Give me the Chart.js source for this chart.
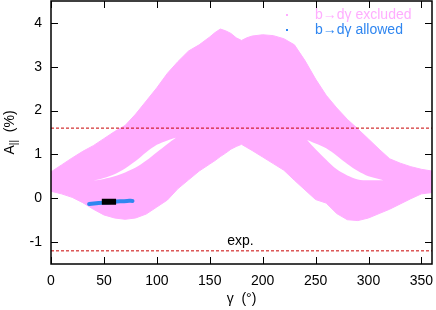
<!DOCTYPE html>
<html>
<head>
<meta charset="utf-8">
<script src="https://cdn.jsdelivr.net/npm/chart.js@4"></script>
<style>
  body { margin: 0; background: #fff; }
  canvas { display: block; }
</style>
</head>
<body>
<canvas id="gammaChart" width="436" height="310"></canvas>
<script>
// envelope of the b->d gamma excluded region
const gamma = [0, 10, 20, 30, 40, 50, 60, 70, 80, 90, 100, 110, 120, 130, 140, 150, 155, 160, 165, 170, 175, 180, 185, 190, 200, 210, 220, 230, 240, 250, 260, 270, 280, 290, 300, 310, 320, 330, 340, 350, 360]
const upperEdge = [0.60, 0.76, 0.92, 1.07, 1.20, 1.36, 1.52, 1.66, 1.92, 2.22, 2.52, 2.85, 3.12, 3.36, 3.50, 3.68, 3.78, 3.86, 3.82, 3.76, 3.66, 3.60, 3.66, 3.70, 3.73, 3.71, 3.64, 3.50, 3.14, 2.72, 2.35, 2.06, 1.80, 1.58, 1.35, 1.12, 0.90, 0.80, 0.72, 0.66, 0.62]
const lowerEdge = [0.16, 0.10, 0.02, -0.10, -0.25, -0.38, -0.45, -0.48, -0.45, -0.36, -0.20, -0.04, 0.22, 0.42, 0.62, 0.78, 0.86, 0.95, 1.03, 1.12, 1.18, 1.23, 1.16, 1.09, 0.94, 0.79, 0.64, 0.41, 0.19, -0.03, -0.11, -0.35, -0.49, -0.51, -0.45, -0.35, -0.25, -0.13, -0.01, 0.10, 0.13]

// the two empty "eyes" inside the band
const leftHoleX = [40, 50, 60, 70, 80, 90, 100, 110, 118]
const leftHoleTop = [0.40, 0.46, 0.55, 0.68, 0.85, 1.05, 1.22, 1.32, 1.38]
const leftHoleBottom = [0.40, 0.44, 0.50, 0.59, 0.70, 0.86, 1.05, 1.24, 1.38]
const rightHoleX = [242, 250, 260, 270, 280, 290, 300, 314]
const rightHoleTop = [1.33, 1.25, 1.14, 0.97, 0.78, 0.62, 0.50, 0.41]
const rightHoleBottom = [1.33, 1.12, 0.88, 0.66, 0.52, 0.43, 0.41, 0.41]

// allowed points and the best fit box
const allowedX = [36, 45, 55, 65, 72, 77]
const allowedY = [-0.13, -0.11, -0.09, -0.07, -0.06, -0.06]
const boxX = [48, 61.5]
const boxY = [-0.08, -0.08]

const expLimits = [1.6, -1.2]
const xTicks = [0, 50, 100, 150, 200, 250, 300, 350]
const yTicks = [-1, 0, 1, 2, 3, 4]

const pink = '#ffaeff'
const blue = '#2f86f0'
const font = 'Liberation Sans, Arial, Helvetica, sans-serif'

const pts = (xs, ys) => xs.map((v, i) => ({ x: v, y: ys[i] }))
const closed = (xs, top, bottom) => pts(xs, top).concat(pts(xs, bottom).reverse())

const plain = { showLine: true, pointRadius: 0, pointHoverRadius: 0, tension: 0 }

const datasets = [
    {
        ...plain, label: 'b→dγ excluded', data: closed(gamma, upperEdge, lowerEdge),
        fill: 'shape', backgroundColor: pink, borderColor: pink, borderWidth: 1, order: 10
    },
    {
        ...plain, data: closed(leftHoleX, leftHoleTop, leftHoleBottom), tension: 0.3,
        fill: 'shape', backgroundColor: '#fff', borderColor: 'rgba(0,0,0,0)', borderWidth: 0, order: 9
    },
    {
        ...plain, data: closed(rightHoleX, rightHoleTop, rightHoleBottom), tension: 0.3,
        fill: 'shape', backgroundColor: '#fff', borderColor: 'rgba(0,0,0,0)', borderWidth: 0, order: 8
    },
    {
        ...plain, label: 'b→dγ allowed', data: pts(allowedX, allowedY), tension: 0.4,
        borderColor: blue, backgroundColor: blue, borderWidth: 4, borderCapStyle: 'round', order: 3
    },
    {
        ...plain, data: pts(boxX, boxY), borderColor: '#000', borderWidth: 6, borderCapStyle: 'butt', order: 2
    }
]
expLimits.forEach(v => {
    datasets.push({
        ...plain, data: [{ x: 0, y: v }, { x: 360, y: v }],
        borderColor: '#c80000', borderWidth: 1, borderDash: [3, 2], order: 5
    })
})

// gnuplot style frame with inward ticks, titles, legend and label
const gnuFrame = {
    id: 'gnuFrame',
    afterDraw(chart) {
        const { ctx, chartArea: a, scales: { x, y } } = chart
        ctx.save()
        ctx.strokeStyle = '#000'
        ctx.lineWidth = 1.5
        ctx.strokeRect(a.left, a.top, a.right - a.left, a.bottom - a.top)
        ctx.lineWidth = 1
        ctx.beginPath()
        xTicks.forEach(v => {
            const px = Math.round(x.getPixelForValue(v)) + 0.5
            ctx.moveTo(px, a.bottom); ctx.lineTo(px, a.bottom - 7)
            ctx.moveTo(px, a.top); ctx.lineTo(px, a.top + 7)
        })
        yTicks.forEach(v => {
            const py = Math.round(y.getPixelForValue(v)) + 0.5
            ctx.moveTo(a.left, py); ctx.lineTo(a.left + 7, py)
            ctx.moveTo(a.right, py); ctx.lineTo(a.right - 7, py)
        })
        ctx.stroke()

        ctx.fillStyle = '#000'
        ctx.font = '14px ' + font
        ctx.textAlign = 'center'
        ctx.textBaseline = 'alphabetic'
        ctx.fillText('exp.', x.getPixelForValue(179), y.getPixelForValue(-1.07))
        ctx.fillText('γ  (°)', (a.left + a.right) / 2, 303)

        // y title with subscript
        ctx.save()
        ctx.translate(14, (a.top + a.bottom) / 2)
        ctx.rotate(-Math.PI / 2)
        ctx.textAlign = 'left'
        ctx.font = '14px ' + font
        const wA = ctx.measureText('A').width
        const wP = ctx.measureText('  (%)').width
        ctx.font = '10px ' + font
        const wS = ctx.measureText('||').width
        let cx = -(wA + wS + wP) / 2
        ctx.font = '14px ' + font
        ctx.fillText('A', cx, 0)
        ctx.font = '10px ' + font
        ctx.fillText('||', cx + wA, 3)
        ctx.font = '14px ' + font
        ctx.fillText('  (%)', cx + wA + wS, 0)
        ctx.restore()

        // legend
        ctx.textAlign = 'left'
        ctx.textBaseline = 'middle'
        const entries = [[datasets[0].label, pink, 15], [datasets[3].label, blue, 30]]
        entries.forEach(([text, color, ly]) => {
            ctx.fillStyle = color
            ctx.fillRect(286, ly - 1, 2, 2)
            ctx.fillText(text, 315, ly)
        })
        ctx.restore()
    }
}

new Chart(document.getElementById('gammaChart'), {
    type: 'scatter',
    data: { datasets: datasets },
    options: {
        responsive: false,
        animation: false,
        layout: { padding: { top: 1, right: 4, left: 0, bottom: 0 } },
        plugins: {
            legend: { display: false },
            tooltip: { enabled: false }
        },
        scales: {
            x: {
                type: 'linear', min: 0, max: 360,
                grid: { display: false, drawTicks: false },
                border: { display: false },
                afterBuildTicks: s => { s.ticks = xTicks.map(v => ({ value: v })) },
                afterFit: s => { s.height = 46; s.paddingLeft = 0; s.paddingRight = 0 },
                ticks: { padding: 9, color: '#000', font: { family: font, size: 14 } }
            },
            y: {
                type: 'linear', min: -1.5, max: 4.5,
                grid: { display: false, drawTicks: false },
                border: { display: false },
                afterBuildTicks: s => { s.ticks = yTicks.map(v => ({ value: v })) },
                afterFit: s => { s.width = 51; s.paddingTop = 0; s.paddingBottom = 0 },
                ticks: { padding: 9, color: '#000', font: { family: font, size: 14 } }
            }
        }
    },
    plugins: [gnuFrame]
})
</script>
</body>
</html>
